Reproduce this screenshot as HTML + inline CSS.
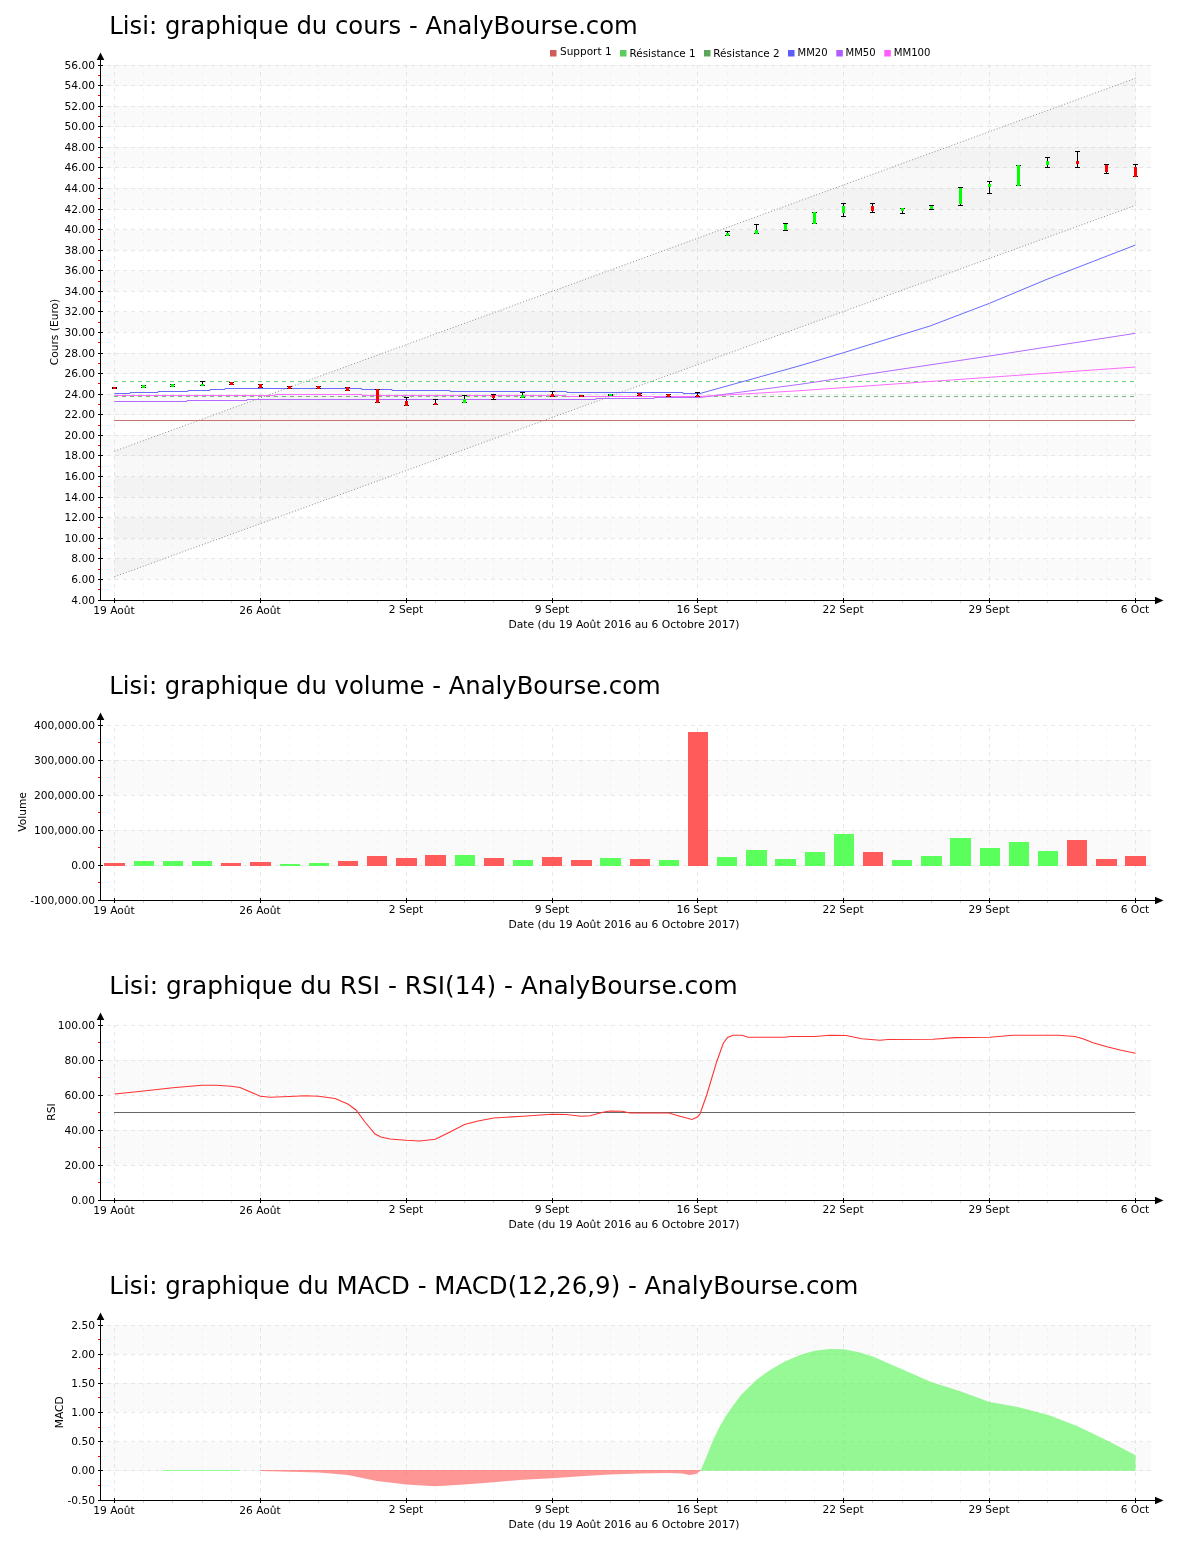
<!DOCTYPE html>
<html lang="fr"><head><meta charset="utf-8"><title>Lisi - AnalyBourse.com</title>
<style>
html,body{margin:0;padding:0;background:#fff}
svg{display:block;font-family:'DejaVu Sans','Liberation Sans',sans-serif;fill:#000}
.c{shape-rendering:crispEdges}
</style></head><body>
<svg width="1200" height="1550" viewBox="0 0 1200 1550">
<rect width="1200" height="1550" fill="#fff"/>
<text x="109.3" y="33.8" font-size="24" textLength="528.5" lengthAdjust="spacingAndGlyphs">Lisi: graphique du cours - AnalyBourse.com</text>
<rect x="101" y="65" width="1050" height="21" fill="#fafafa"/>
<rect x="101" y="106" width="1050" height="21" fill="#fafafa"/>
<rect x="101" y="147" width="1050" height="21" fill="#fafafa"/>
<rect x="101" y="188" width="1050" height="21" fill="#fafafa"/>
<rect x="101" y="230" width="1050" height="20" fill="#fafafa"/>
<rect x="101" y="271" width="1050" height="20" fill="#fafafa"/>
<rect x="101" y="312" width="1050" height="20" fill="#fafafa"/>
<rect x="101" y="353" width="1050" height="21" fill="#fafafa"/>
<rect x="101" y="394" width="1050" height="21" fill="#fafafa"/>
<rect x="101" y="435" width="1050" height="21" fill="#fafafa"/>
<rect x="101" y="477" width="1050" height="20" fill="#fafafa"/>
<rect x="101" y="518" width="1050" height="20" fill="#fafafa"/>
<rect x="101" y="559" width="1050" height="20" fill="#fafafa"/>
<line x1="107" x2="1151" y1="65.5" y2="65.5" stroke="#c8c8c8" stroke-opacity="0.42" stroke-dasharray="4 4" class="c"/>
<line x1="107" x2="1151" y1="85.5" y2="85.5" stroke="#c8c8c8" stroke-opacity="0.42" stroke-dasharray="4 4" class="c"/>
<line x1="107" x2="1151" y1="106.5" y2="106.5" stroke="#c8c8c8" stroke-opacity="0.42" stroke-dasharray="4 4" class="c"/>
<line x1="107" x2="1151" y1="126.5" y2="126.5" stroke="#c8c8c8" stroke-opacity="0.42" stroke-dasharray="4 4" class="c"/>
<line x1="107" x2="1151" y1="147.5" y2="147.5" stroke="#c8c8c8" stroke-opacity="0.42" stroke-dasharray="4 4" class="c"/>
<line x1="107" x2="1151" y1="167.5" y2="167.5" stroke="#c8c8c8" stroke-opacity="0.42" stroke-dasharray="4 4" class="c"/>
<line x1="107" x2="1151" y1="188.5" y2="188.5" stroke="#c8c8c8" stroke-opacity="0.42" stroke-dasharray="4 4" class="c"/>
<line x1="107" x2="1151" y1="209.5" y2="209.5" stroke="#c8c8c8" stroke-opacity="0.42" stroke-dasharray="4 4" class="c"/>
<line x1="107" x2="1151" y1="229.5" y2="229.5" stroke="#c8c8c8" stroke-opacity="0.42" stroke-dasharray="4 4" class="c"/>
<line x1="107" x2="1151" y1="250.5" y2="250.5" stroke="#c8c8c8" stroke-opacity="0.42" stroke-dasharray="4 4" class="c"/>
<line x1="107" x2="1151" y1="270.5" y2="270.5" stroke="#c8c8c8" stroke-opacity="0.42" stroke-dasharray="4 4" class="c"/>
<line x1="107" x2="1151" y1="291.5" y2="291.5" stroke="#c8c8c8" stroke-opacity="0.42" stroke-dasharray="4 4" class="c"/>
<line x1="107" x2="1151" y1="311.5" y2="311.5" stroke="#c8c8c8" stroke-opacity="0.42" stroke-dasharray="4 4" class="c"/>
<line x1="107" x2="1151" y1="332.5" y2="332.5" stroke="#c8c8c8" stroke-opacity="0.42" stroke-dasharray="4 4" class="c"/>
<line x1="107" x2="1151" y1="353.5" y2="353.5" stroke="#c8c8c8" stroke-opacity="0.42" stroke-dasharray="4 4" class="c"/>
<line x1="107" x2="1151" y1="373.5" y2="373.5" stroke="#c8c8c8" stroke-opacity="0.42" stroke-dasharray="4 4" class="c"/>
<line x1="107" x2="1151" y1="394.5" y2="394.5" stroke="#c8c8c8" stroke-opacity="0.42" stroke-dasharray="4 4" class="c"/>
<line x1="107" x2="1151" y1="414.5" y2="414.5" stroke="#c8c8c8" stroke-opacity="0.42" stroke-dasharray="4 4" class="c"/>
<line x1="107" x2="1151" y1="435.5" y2="435.5" stroke="#c8c8c8" stroke-opacity="0.42" stroke-dasharray="4 4" class="c"/>
<line x1="107" x2="1151" y1="455.5" y2="455.5" stroke="#c8c8c8" stroke-opacity="0.42" stroke-dasharray="4 4" class="c"/>
<line x1="107" x2="1151" y1="476.5" y2="476.5" stroke="#c8c8c8" stroke-opacity="0.42" stroke-dasharray="4 4" class="c"/>
<line x1="107" x2="1151" y1="497.5" y2="497.5" stroke="#c8c8c8" stroke-opacity="0.42" stroke-dasharray="4 4" class="c"/>
<line x1="107" x2="1151" y1="517.5" y2="517.5" stroke="#c8c8c8" stroke-opacity="0.42" stroke-dasharray="4 4" class="c"/>
<line x1="107" x2="1151" y1="538.5" y2="538.5" stroke="#c8c8c8" stroke-opacity="0.42" stroke-dasharray="4 4" class="c"/>
<line x1="107" x2="1151" y1="558.5" y2="558.5" stroke="#c8c8c8" stroke-opacity="0.42" stroke-dasharray="4 4" class="c"/>
<line x1="107" x2="1151" y1="579.5" y2="579.5" stroke="#c8c8c8" stroke-opacity="0.42" stroke-dasharray="4 4" class="c"/>
<line x1="114.5" x2="114.5" y1="65" y2="599" stroke="#c8c8c8" stroke-opacity="0.42" stroke-dasharray="4 4" stroke-dashoffset="1" class="c"/>
<line x1="143.5" x2="143.5" y1="65" y2="599" stroke="#c8c8c8" stroke-opacity="0.13" stroke-dasharray="4 4" stroke-dashoffset="1" class="c"/>
<line x1="172.5" x2="172.5" y1="65" y2="599" stroke="#c8c8c8" stroke-opacity="0.13" stroke-dasharray="4 4" stroke-dashoffset="1" class="c"/>
<line x1="202.5" x2="202.5" y1="65" y2="599" stroke="#c8c8c8" stroke-opacity="0.13" stroke-dasharray="4 4" stroke-dashoffset="1" class="c"/>
<line x1="231.5" x2="231.5" y1="65" y2="599" stroke="#c8c8c8" stroke-opacity="0.13" stroke-dasharray="4 4" stroke-dashoffset="1" class="c"/>
<line x1="260.5" x2="260.5" y1="65" y2="599" stroke="#c8c8c8" stroke-opacity="0.42" stroke-dasharray="4 4" stroke-dashoffset="1" class="c"/>
<line x1="289.5" x2="289.5" y1="65" y2="599" stroke="#c8c8c8" stroke-opacity="0.13" stroke-dasharray="4 4" stroke-dashoffset="1" class="c"/>
<line x1="318.5" x2="318.5" y1="65" y2="599" stroke="#c8c8c8" stroke-opacity="0.13" stroke-dasharray="4 4" stroke-dashoffset="1" class="c"/>
<line x1="347.5" x2="347.5" y1="65" y2="599" stroke="#c8c8c8" stroke-opacity="0.13" stroke-dasharray="4 4" stroke-dashoffset="1" class="c"/>
<line x1="377.5" x2="377.5" y1="65" y2="599" stroke="#c8c8c8" stroke-opacity="0.13" stroke-dasharray="4 4" stroke-dashoffset="1" class="c"/>
<line x1="406.5" x2="406.5" y1="65" y2="599" stroke="#c8c8c8" stroke-opacity="0.42" stroke-dasharray="4 4" stroke-dashoffset="1" class="c"/>
<line x1="435.5" x2="435.5" y1="65" y2="599" stroke="#c8c8c8" stroke-opacity="0.13" stroke-dasharray="4 4" stroke-dashoffset="1" class="c"/>
<line x1="464.5" x2="464.5" y1="65" y2="599" stroke="#c8c8c8" stroke-opacity="0.13" stroke-dasharray="4 4" stroke-dashoffset="1" class="c"/>
<line x1="493.5" x2="493.5" y1="65" y2="599" stroke="#c8c8c8" stroke-opacity="0.13" stroke-dasharray="4 4" stroke-dashoffset="1" class="c"/>
<line x1="522.5" x2="522.5" y1="65" y2="599" stroke="#c8c8c8" stroke-opacity="0.13" stroke-dasharray="4 4" stroke-dashoffset="1" class="c"/>
<line x1="552.5" x2="552.5" y1="65" y2="599" stroke="#c8c8c8" stroke-opacity="0.42" stroke-dasharray="4 4" stroke-dashoffset="1" class="c"/>
<line x1="581.5" x2="581.5" y1="65" y2="599" stroke="#c8c8c8" stroke-opacity="0.13" stroke-dasharray="4 4" stroke-dashoffset="1" class="c"/>
<line x1="610.5" x2="610.5" y1="65" y2="599" stroke="#c8c8c8" stroke-opacity="0.13" stroke-dasharray="4 4" stroke-dashoffset="1" class="c"/>
<line x1="639.5" x2="639.5" y1="65" y2="599" stroke="#c8c8c8" stroke-opacity="0.13" stroke-dasharray="4 4" stroke-dashoffset="1" class="c"/>
<line x1="668.5" x2="668.5" y1="65" y2="599" stroke="#c8c8c8" stroke-opacity="0.13" stroke-dasharray="4 4" stroke-dashoffset="1" class="c"/>
<line x1="697.5" x2="697.5" y1="65" y2="599" stroke="#c8c8c8" stroke-opacity="0.42" stroke-dasharray="4 4" stroke-dashoffset="1" class="c"/>
<line x1="727.5" x2="727.5" y1="65" y2="599" stroke="#c8c8c8" stroke-opacity="0.13" stroke-dasharray="4 4" stroke-dashoffset="1" class="c"/>
<line x1="756.5" x2="756.5" y1="65" y2="599" stroke="#c8c8c8" stroke-opacity="0.13" stroke-dasharray="4 4" stroke-dashoffset="1" class="c"/>
<line x1="785.5" x2="785.5" y1="65" y2="599" stroke="#c8c8c8" stroke-opacity="0.13" stroke-dasharray="4 4" stroke-dashoffset="1" class="c"/>
<line x1="814.5" x2="814.5" y1="65" y2="599" stroke="#c8c8c8" stroke-opacity="0.13" stroke-dasharray="4 4" stroke-dashoffset="1" class="c"/>
<line x1="843.5" x2="843.5" y1="65" y2="599" stroke="#c8c8c8" stroke-opacity="0.42" stroke-dasharray="4 4" stroke-dashoffset="1" class="c"/>
<line x1="872.5" x2="872.5" y1="65" y2="599" stroke="#c8c8c8" stroke-opacity="0.13" stroke-dasharray="4 4" stroke-dashoffset="1" class="c"/>
<line x1="902.5" x2="902.5" y1="65" y2="599" stroke="#c8c8c8" stroke-opacity="0.13" stroke-dasharray="4 4" stroke-dashoffset="1" class="c"/>
<line x1="931.5" x2="931.5" y1="65" y2="599" stroke="#c8c8c8" stroke-opacity="0.13" stroke-dasharray="4 4" stroke-dashoffset="1" class="c"/>
<line x1="960.5" x2="960.5" y1="65" y2="599" stroke="#c8c8c8" stroke-opacity="0.13" stroke-dasharray="4 4" stroke-dashoffset="1" class="c"/>
<line x1="989.5" x2="989.5" y1="65" y2="599" stroke="#c8c8c8" stroke-opacity="0.42" stroke-dasharray="4 4" stroke-dashoffset="1" class="c"/>
<line x1="1018.5" x2="1018.5" y1="65" y2="599" stroke="#c8c8c8" stroke-opacity="0.13" stroke-dasharray="4 4" stroke-dashoffset="1" class="c"/>
<line x1="1047.5" x2="1047.5" y1="65" y2="599" stroke="#c8c8c8" stroke-opacity="0.13" stroke-dasharray="4 4" stroke-dashoffset="1" class="c"/>
<line x1="1077.5" x2="1077.5" y1="65" y2="599" stroke="#c8c8c8" stroke-opacity="0.13" stroke-dasharray="4 4" stroke-dashoffset="1" class="c"/>
<line x1="1106.5" x2="1106.5" y1="65" y2="599" stroke="#c8c8c8" stroke-opacity="0.13" stroke-dasharray="4 4" stroke-dashoffset="1" class="c"/>
<line x1="1135.5" x2="1135.5" y1="65" y2="599" stroke="#c8c8c8" stroke-opacity="0.42" stroke-dasharray="4 4" stroke-dashoffset="1" class="c"/>
<polygon points="114.5,451.2 1135.5,78.3 1135.5,205.3 114.5,576.7" fill="#000" fill-opacity="0.028"/>
<line x1="114.5" y1="451.2" x2="1135.5" y2="78.3" stroke="#8c8c8c" stroke-dasharray="1 2"/>
<line x1="114.5" y1="576.7" x2="1135.5" y2="205.3" stroke="#8c8c8c" stroke-dasharray="1 2"/>
<line x1="114" x2="1135" y1="420.5" y2="420.5" stroke="#c97272" class="c"/>
<line x1="114" x2="1135" y1="381.5" y2="381.5" stroke="#6fd06f" stroke-dasharray="4 4" class="c"/>
<line x1="114" x2="1135" y1="396.5" y2="396.5" stroke="#76b876" stroke-dasharray="4 4" class="c"/>
<polyline points="114.5,393.5 130.0,393.5 130.0,392.5 158.0,392.5 158.0,391.5 188.0,391.5 188.0,390.5 210.0,390.5 210.0,389.5 225.0,389.5 225.0,388.5 361.7,388.5 361.7,389.5 392.0,389.5 392.0,390.5 450.0,390.5 450.0,391.5 566.7,391.5 566.7,392.5 683.0,392.5 683.0,393.5 700.0,393.5 800.0,365.7 843.5,352.7 930.0,326.0 989.5,303.3 1047.0,279.3 1135.5,245.0" fill="none" stroke="#6a6aff" stroke-width="1"/>
<polyline points="114.5,401.5 187.0,401.5 187.0,400.5 247.0,400.5 247.0,399.5 596.0,399.5 596.0,398.5 654.0,398.5 654.0,397.5 700.0,397.5 800.0,384.3 989.5,356.0 1135.5,333.3" fill="none" stroke="#b56aff" stroke-width="1"/>
<polyline points="114.5,395.5 275.0,395.5 275.0,394.5 362.0,394.5 362.0,395.5 566.0,395.5 566.0,396.5 700.0,396.5 800.0,390.7 989.5,377.3 1135.5,367.0" fill="none" stroke="#ff6aff" stroke-width="1"/>
<rect x="114.0" y="387" width="1" height="2" fill="#000"/>
<rect x="112.0" y="387" width="5" height="1" fill="#000"/><rect x="112.0" y="388" width="5" height="1" fill="#000"/>
<rect x="113.0" y="387" width="3" height="2" fill="#ff0000"/>
<rect x="143.0" y="385" width="1" height="3" fill="#000"/>
<rect x="141.0" y="385" width="5" height="1" fill="#000"/><rect x="141.0" y="387" width="5" height="1" fill="#000"/>
<rect x="142.0" y="385" width="3" height="3" fill="#00ff00"/>
<rect x="172.0" y="384" width="1" height="3" fill="#000"/>
<rect x="170.0" y="384" width="5" height="1" fill="#000"/><rect x="170.0" y="386" width="5" height="1" fill="#000"/>
<rect x="171.0" y="384" width="3" height="3" fill="#00ff00"/>
<rect x="202.0" y="381" width="1" height="5" fill="#000"/>
<rect x="200.0" y="381" width="5" height="1" fill="#000"/><rect x="200.0" y="385" width="5" height="1" fill="#000"/>
<rect x="201.0" y="384" width="3" height="2" fill="#00ff00"/>
<rect x="231.0" y="382" width="1" height="3" fill="#000"/>
<rect x="229.0" y="382" width="5" height="1" fill="#000"/><rect x="229.0" y="384" width="5" height="1" fill="#000"/>
<rect x="230.0" y="382" width="3" height="3" fill="#ff0000"/>
<rect x="260.0" y="384" width="1" height="4" fill="#000"/>
<rect x="258.0" y="384" width="5" height="1" fill="#000"/><rect x="258.0" y="387" width="5" height="1" fill="#000"/>
<rect x="259.0" y="384" width="3" height="4" fill="#ff0000"/>
<rect x="289.0" y="386" width="1" height="3" fill="#000"/>
<rect x="287.0" y="386" width="5" height="1" fill="#000"/><rect x="287.0" y="388" width="5" height="1" fill="#000"/>
<rect x="288.0" y="386" width="3" height="3" fill="#ff0000"/>
<rect x="318.0" y="386" width="1" height="3" fill="#000"/>
<rect x="316.0" y="386" width="5" height="1" fill="#000"/><rect x="316.0" y="388" width="5" height="1" fill="#000"/>
<rect x="317.0" y="386" width="3" height="3" fill="#ff0000"/>
<rect x="347.0" y="387" width="1" height="4" fill="#000"/>
<rect x="345.0" y="387" width="5" height="1" fill="#000"/><rect x="345.0" y="390" width="5" height="1" fill="#000"/>
<rect x="346.0" y="387" width="3" height="4" fill="#ff0000"/>
<rect x="377.0" y="389" width="1" height="14" fill="#000"/>
<rect x="375.0" y="389" width="5" height="1" fill="#000"/><rect x="375.0" y="402" width="5" height="1" fill="#000"/>
<rect x="376.0" y="389" width="3" height="14" fill="#ff0000"/>
<rect x="406.0" y="397" width="1" height="9" fill="#000"/>
<rect x="404.0" y="397" width="5" height="1" fill="#000"/><rect x="404.0" y="405" width="5" height="1" fill="#000"/>
<rect x="405.0" y="401" width="3" height="5" fill="#ff0000"/>
<rect x="435.0" y="399" width="1" height="6" fill="#000"/>
<rect x="433.0" y="399" width="5" height="1" fill="#000"/><rect x="433.0" y="404" width="5" height="1" fill="#000"/>
<rect x="434.0" y="403" width="3" height="2" fill="#ff0000"/>
<rect x="464.0" y="395" width="1" height="8" fill="#000"/>
<rect x="462.0" y="395" width="5" height="1" fill="#000"/><rect x="462.0" y="402" width="5" height="1" fill="#000"/>
<rect x="463.0" y="399" width="3" height="4" fill="#00ff00"/>
<rect x="493.0" y="394" width="1" height="6" fill="#000"/>
<rect x="491.0" y="394" width="5" height="1" fill="#000"/><rect x="491.0" y="399" width="5" height="1" fill="#000"/>
<rect x="492.0" y="395" width="3" height="3" fill="#ff0000"/>
<rect x="522.0" y="392" width="1" height="6" fill="#000"/>
<rect x="520.0" y="392" width="5" height="1" fill="#000"/><rect x="520.0" y="397" width="5" height="1" fill="#000"/>
<rect x="521.0" y="395" width="3" height="3" fill="#00ff00"/>
<rect x="552.0" y="391" width="1" height="6" fill="#000"/>
<rect x="550.0" y="391" width="5" height="1" fill="#000"/><rect x="550.0" y="396" width="5" height="1" fill="#000"/>
<rect x="551.0" y="394" width="3" height="3" fill="#ff0000"/>
<rect x="581.0" y="395" width="1" height="2" fill="#000"/>
<rect x="579.0" y="395" width="5" height="1" fill="#000"/><rect x="579.0" y="396" width="5" height="1" fill="#000"/>
<rect x="580.0" y="395" width="3" height="2" fill="#ff0000"/>
<rect x="610.0" y="394" width="1" height="2" fill="#000"/>
<rect x="608.0" y="394" width="5" height="1" fill="#000"/><rect x="608.0" y="395" width="5" height="1" fill="#000"/>
<rect x="609.0" y="394" width="3" height="2" fill="#00ff00"/>
<rect x="639.0" y="393" width="1" height="3" fill="#000"/>
<rect x="637.0" y="393" width="5" height="1" fill="#000"/><rect x="637.0" y="395" width="5" height="1" fill="#000"/>
<rect x="638.0" y="393" width="3" height="3" fill="#ff0000"/>
<rect x="668.0" y="394" width="1" height="3" fill="#000"/>
<rect x="666.0" y="394" width="5" height="1" fill="#000"/><rect x="666.0" y="396" width="5" height="1" fill="#000"/>
<rect x="667.0" y="394" width="3" height="3" fill="#ff0000"/>
<rect x="697.0" y="392" width="1" height="5" fill="#000"/>
<rect x="695.0" y="392" width="5" height="1" fill="#000"/><rect x="695.0" y="396" width="5" height="1" fill="#000"/>
<rect x="696.0" y="395" width="3" height="2" fill="#ff0000"/>
<rect x="727.0" y="231" width="1" height="5" fill="#000"/>
<rect x="725.0" y="231" width="5" height="1" fill="#000"/><rect x="725.0" y="235" width="5" height="1" fill="#000"/>
<rect x="726.0" y="233" width="3" height="3" fill="#00ff00"/>
<rect x="756.0" y="224" width="1" height="10" fill="#000"/>
<rect x="754.0" y="224" width="5" height="1" fill="#000"/><rect x="754.0" y="233" width="5" height="1" fill="#000"/>
<rect x="755.0" y="230" width="3" height="4" fill="#00ff00"/>
<rect x="785.0" y="223" width="1" height="8" fill="#000"/>
<rect x="783.0" y="223" width="5" height="1" fill="#000"/><rect x="783.0" y="230" width="5" height="1" fill="#000"/>
<rect x="784.0" y="224" width="3" height="6" fill="#00ff00"/>
<rect x="814.0" y="212" width="1" height="12" fill="#000"/>
<rect x="812.0" y="212" width="5" height="1" fill="#000"/><rect x="812.0" y="223" width="5" height="1" fill="#000"/>
<rect x="813.0" y="212" width="3" height="12" fill="#00ff00"/>
<rect x="843.0" y="203" width="1" height="14" fill="#000"/>
<rect x="841.0" y="203" width="5" height="1" fill="#000"/><rect x="841.0" y="216" width="5" height="1" fill="#000"/>
<rect x="842.0" y="206" width="3" height="7" fill="#00ff00"/>
<rect x="872.0" y="203" width="1" height="10" fill="#000"/>
<rect x="870.0" y="203" width="5" height="1" fill="#000"/><rect x="870.0" y="212" width="5" height="1" fill="#000"/>
<rect x="871.0" y="206" width="3" height="5" fill="#ff0000"/>
<rect x="902.0" y="208" width="1" height="6" fill="#000"/>
<rect x="900.0" y="208" width="5" height="1" fill="#000"/><rect x="900.0" y="213" width="5" height="1" fill="#000"/>
<rect x="901.0" y="208" width="3" height="3" fill="#00ff00"/>
<rect x="931.0" y="205" width="1" height="5" fill="#000"/>
<rect x="929.0" y="205" width="5" height="1" fill="#000"/><rect x="929.0" y="209" width="5" height="1" fill="#000"/>
<rect x="930.0" y="206" width="3" height="3" fill="#00ff00"/>
<rect x="960.0" y="187" width="1" height="19" fill="#000"/>
<rect x="958.0" y="187" width="5" height="1" fill="#000"/><rect x="958.0" y="205" width="5" height="1" fill="#000"/>
<rect x="959.0" y="188" width="3" height="16" fill="#00ff00"/>
<rect x="989.0" y="181" width="1" height="13" fill="#000"/>
<rect x="987.0" y="181" width="5" height="1" fill="#000"/><rect x="987.0" y="193" width="5" height="1" fill="#000"/>
<rect x="988.0" y="184" width="3" height="3" fill="#00ff00"/>
<rect x="1018.0" y="165" width="1" height="21" fill="#000"/>
<rect x="1016.0" y="165" width="5" height="1" fill="#000"/><rect x="1016.0" y="185" width="5" height="1" fill="#000"/>
<rect x="1017.0" y="165" width="3" height="21" fill="#00ff00"/>
<rect x="1047.0" y="157" width="1" height="11" fill="#000"/>
<rect x="1045.0" y="157" width="5" height="1" fill="#000"/><rect x="1045.0" y="167" width="5" height="1" fill="#000"/>
<rect x="1046.0" y="161" width="3" height="4" fill="#00ff00"/>
<rect x="1077.0" y="151" width="1" height="17" fill="#000"/>
<rect x="1075.0" y="151" width="5" height="1" fill="#000"/><rect x="1075.0" y="167" width="5" height="1" fill="#000"/>
<rect x="1076.0" y="161" width="3" height="3" fill="#ff0000"/>
<rect x="1106.0" y="164" width="1" height="10" fill="#000"/>
<rect x="1104.0" y="164" width="5" height="1" fill="#000"/><rect x="1104.0" y="173" width="5" height="1" fill="#000"/>
<rect x="1105.0" y="165" width="3" height="7" fill="#ff0000"/>
<rect x="1135.0" y="164" width="1" height="13" fill="#000"/>
<rect x="1133.0" y="164" width="5" height="1" fill="#000"/><rect x="1133.0" y="176" width="5" height="1" fill="#000"/>
<rect x="1134.0" y="167" width="3" height="10" fill="#ff0000"/>
<line x1="100.5" x2="100.5" y1="58" y2="601" stroke="#000" class="c"/>
<path d="M100.5 52.5 L104.3 60 L96.7 60 Z" fill="#000"/>
<line x1="98" x2="1156" y1="600.5" y2="600.5" stroke="#000" class="c"/>
<path d="M1163.5 600.5 L1155 596.7 L1155 604.3 Z" fill="#000"/>
<line x1="98" x2="103" y1="65.5" y2="65.5" stroke="#000" class="c"/>
<text x="95" y="69.2" text-anchor="end" font-size="10.67">56.00</text>
<line x1="98" x2="100" y1="75.5" y2="75.5" stroke="#f00" class="c"/>
<line x1="98" x2="103" y1="85.5" y2="85.5" stroke="#000" class="c"/>
<text x="95" y="89.2" text-anchor="end" font-size="10.67">54.00</text>
<line x1="98" x2="100" y1="95.5" y2="95.5" stroke="#f00" class="c"/>
<line x1="98" x2="103" y1="106.5" y2="106.5" stroke="#000" class="c"/>
<text x="95" y="110.2" text-anchor="end" font-size="10.67">52.00</text>
<line x1="98" x2="100" y1="116.5" y2="116.5" stroke="#f00" class="c"/>
<line x1="98" x2="103" y1="126.5" y2="126.5" stroke="#000" class="c"/>
<text x="95" y="130.2" text-anchor="end" font-size="10.67">50.00</text>
<line x1="98" x2="100" y1="137.5" y2="137.5" stroke="#f00" class="c"/>
<line x1="98" x2="103" y1="147.5" y2="147.5" stroke="#000" class="c"/>
<text x="95" y="151.2" text-anchor="end" font-size="10.67">48.00</text>
<line x1="98" x2="100" y1="157.5" y2="157.5" stroke="#f00" class="c"/>
<line x1="98" x2="103" y1="167.5" y2="167.5" stroke="#000" class="c"/>
<text x="95" y="171.2" text-anchor="end" font-size="10.67">46.00</text>
<line x1="98" x2="100" y1="178.5" y2="178.5" stroke="#f00" class="c"/>
<line x1="98" x2="103" y1="188.5" y2="188.5" stroke="#000" class="c"/>
<text x="95" y="192.2" text-anchor="end" font-size="10.67">44.00</text>
<line x1="98" x2="100" y1="198.5" y2="198.5" stroke="#f00" class="c"/>
<line x1="98" x2="103" y1="209.5" y2="209.5" stroke="#000" class="c"/>
<text x="95" y="213.2" text-anchor="end" font-size="10.67">42.00</text>
<line x1="98" x2="100" y1="219.5" y2="219.5" stroke="#f00" class="c"/>
<line x1="98" x2="103" y1="229.5" y2="229.5" stroke="#000" class="c"/>
<text x="95" y="233.2" text-anchor="end" font-size="10.67">40.00</text>
<line x1="98" x2="100" y1="239.5" y2="239.5" stroke="#f00" class="c"/>
<line x1="98" x2="103" y1="250.5" y2="250.5" stroke="#000" class="c"/>
<text x="95" y="254.2" text-anchor="end" font-size="10.67">38.00</text>
<line x1="98" x2="100" y1="260.5" y2="260.5" stroke="#f00" class="c"/>
<line x1="98" x2="103" y1="270.5" y2="270.5" stroke="#000" class="c"/>
<text x="95" y="274.2" text-anchor="end" font-size="10.67">36.00</text>
<line x1="98" x2="100" y1="281.5" y2="281.5" stroke="#f00" class="c"/>
<line x1="98" x2="103" y1="291.5" y2="291.5" stroke="#000" class="c"/>
<text x="95" y="295.2" text-anchor="end" font-size="10.67">34.00</text>
<line x1="98" x2="100" y1="301.5" y2="301.5" stroke="#f00" class="c"/>
<line x1="98" x2="103" y1="311.5" y2="311.5" stroke="#000" class="c"/>
<text x="95" y="315.2" text-anchor="end" font-size="10.67">32.00</text>
<line x1="98" x2="100" y1="322.5" y2="322.5" stroke="#f00" class="c"/>
<line x1="98" x2="103" y1="332.5" y2="332.5" stroke="#000" class="c"/>
<text x="95" y="336.2" text-anchor="end" font-size="10.67">30.00</text>
<line x1="98" x2="100" y1="342.5" y2="342.5" stroke="#f00" class="c"/>
<line x1="98" x2="103" y1="353.5" y2="353.5" stroke="#000" class="c"/>
<text x="95" y="357.2" text-anchor="end" font-size="10.67">28.00</text>
<line x1="98" x2="100" y1="363.5" y2="363.5" stroke="#f00" class="c"/>
<line x1="98" x2="103" y1="373.5" y2="373.5" stroke="#000" class="c"/>
<text x="95" y="377.2" text-anchor="end" font-size="10.67">26.00</text>
<line x1="98" x2="100" y1="383.5" y2="383.5" stroke="#f00" class="c"/>
<line x1="98" x2="103" y1="394.5" y2="394.5" stroke="#000" class="c"/>
<text x="95" y="398.2" text-anchor="end" font-size="10.67">24.00</text>
<line x1="98" x2="100" y1="404.5" y2="404.5" stroke="#f00" class="c"/>
<line x1="98" x2="103" y1="414.5" y2="414.5" stroke="#000" class="c"/>
<text x="95" y="418.2" text-anchor="end" font-size="10.67">22.00</text>
<line x1="98" x2="100" y1="425.5" y2="425.5" stroke="#f00" class="c"/>
<line x1="98" x2="103" y1="435.5" y2="435.5" stroke="#000" class="c"/>
<text x="95" y="439.2" text-anchor="end" font-size="10.67">20.00</text>
<line x1="98" x2="100" y1="445.5" y2="445.5" stroke="#f00" class="c"/>
<line x1="98" x2="103" y1="455.5" y2="455.5" stroke="#000" class="c"/>
<text x="95" y="459.2" text-anchor="end" font-size="10.67">18.00</text>
<line x1="98" x2="100" y1="466.5" y2="466.5" stroke="#f00" class="c"/>
<line x1="98" x2="103" y1="476.5" y2="476.5" stroke="#000" class="c"/>
<text x="95" y="480.2" text-anchor="end" font-size="10.67">16.00</text>
<line x1="98" x2="100" y1="486.5" y2="486.5" stroke="#f00" class="c"/>
<line x1="98" x2="103" y1="497.5" y2="497.5" stroke="#000" class="c"/>
<text x="95" y="501.2" text-anchor="end" font-size="10.67">14.00</text>
<line x1="98" x2="100" y1="507.5" y2="507.5" stroke="#f00" class="c"/>
<line x1="98" x2="103" y1="517.5" y2="517.5" stroke="#000" class="c"/>
<text x="95" y="521.2" text-anchor="end" font-size="10.67">12.00</text>
<line x1="98" x2="100" y1="527.5" y2="527.5" stroke="#f00" class="c"/>
<line x1="98" x2="103" y1="538.5" y2="538.5" stroke="#000" class="c"/>
<text x="95" y="542.2" text-anchor="end" font-size="10.67">10.00</text>
<line x1="98" x2="100" y1="548.5" y2="548.5" stroke="#f00" class="c"/>
<line x1="98" x2="103" y1="558.5" y2="558.5" stroke="#000" class="c"/>
<text x="95" y="562.2" text-anchor="end" font-size="10.67">8.00</text>
<line x1="98" x2="100" y1="569.5" y2="569.5" stroke="#f00" class="c"/>
<line x1="98" x2="103" y1="579.5" y2="579.5" stroke="#000" class="c"/>
<text x="95" y="583.2" text-anchor="end" font-size="10.67">6.00</text>
<line x1="98" x2="100" y1="589.5" y2="589.5" stroke="#f00" class="c"/>
<line x1="98" x2="103" y1="600.5" y2="600.5" stroke="#000" class="c"/>
<text x="95" y="604.2" text-anchor="end" font-size="10.67">4.00</text>
<line x1="114.5" x2="114.5" y1="598" y2="603" stroke="#000" class="c"/>
<text x="114.0" y="613.7" text-anchor="middle" font-size="10.67">19 Août</text>
<line x1="143.5" x2="143.5" y1="601" y2="603" stroke="#d4d4d4" class="c"/>
<line x1="172.5" x2="172.5" y1="601" y2="603" stroke="#d4d4d4" class="c"/>
<line x1="202.5" x2="202.5" y1="601" y2="603" stroke="#d4d4d4" class="c"/>
<line x1="231.5" x2="231.5" y1="601" y2="603" stroke="#d4d4d4" class="c"/>
<line x1="260.5" x2="260.5" y1="598" y2="603" stroke="#000" class="c"/>
<text x="260.0" y="613.7" text-anchor="middle" font-size="10.67">26 Août</text>
<line x1="289.5" x2="289.5" y1="601" y2="603" stroke="#d4d4d4" class="c"/>
<line x1="318.5" x2="318.5" y1="601" y2="603" stroke="#d4d4d4" class="c"/>
<line x1="347.5" x2="347.5" y1="601" y2="603" stroke="#d4d4d4" class="c"/>
<line x1="377.5" x2="377.5" y1="601" y2="603" stroke="#d4d4d4" class="c"/>
<line x1="406.5" x2="406.5" y1="598" y2="603" stroke="#000" class="c"/>
<text x="406.0" y="612.8" text-anchor="middle" font-size="10.67">2 Sept</text>
<line x1="435.5" x2="435.5" y1="601" y2="603" stroke="#d4d4d4" class="c"/>
<line x1="464.5" x2="464.5" y1="601" y2="603" stroke="#d4d4d4" class="c"/>
<line x1="493.5" x2="493.5" y1="601" y2="603" stroke="#d4d4d4" class="c"/>
<line x1="522.5" x2="522.5" y1="601" y2="603" stroke="#d4d4d4" class="c"/>
<line x1="552.5" x2="552.5" y1="598" y2="603" stroke="#000" class="c"/>
<text x="552.0" y="612.8" text-anchor="middle" font-size="10.67">9 Sept</text>
<line x1="581.5" x2="581.5" y1="601" y2="603" stroke="#d4d4d4" class="c"/>
<line x1="610.5" x2="610.5" y1="601" y2="603" stroke="#d4d4d4" class="c"/>
<line x1="639.5" x2="639.5" y1="601" y2="603" stroke="#d4d4d4" class="c"/>
<line x1="668.5" x2="668.5" y1="601" y2="603" stroke="#d4d4d4" class="c"/>
<line x1="697.5" x2="697.5" y1="598" y2="603" stroke="#000" class="c"/>
<text x="697.0" y="612.8" text-anchor="middle" font-size="10.67">16 Sept</text>
<line x1="727.5" x2="727.5" y1="601" y2="603" stroke="#d4d4d4" class="c"/>
<line x1="756.5" x2="756.5" y1="601" y2="603" stroke="#d4d4d4" class="c"/>
<line x1="785.5" x2="785.5" y1="601" y2="603" stroke="#d4d4d4" class="c"/>
<line x1="814.5" x2="814.5" y1="601" y2="603" stroke="#d4d4d4" class="c"/>
<line x1="843.5" x2="843.5" y1="598" y2="603" stroke="#000" class="c"/>
<text x="843.0" y="612.8" text-anchor="middle" font-size="10.67">22 Sept</text>
<line x1="872.5" x2="872.5" y1="601" y2="603" stroke="#d4d4d4" class="c"/>
<line x1="902.5" x2="902.5" y1="601" y2="603" stroke="#d4d4d4" class="c"/>
<line x1="931.5" x2="931.5" y1="601" y2="603" stroke="#d4d4d4" class="c"/>
<line x1="960.5" x2="960.5" y1="601" y2="603" stroke="#d4d4d4" class="c"/>
<line x1="989.5" x2="989.5" y1="598" y2="603" stroke="#000" class="c"/>
<text x="989.0" y="612.8" text-anchor="middle" font-size="10.67">29 Sept</text>
<line x1="1018.5" x2="1018.5" y1="601" y2="603" stroke="#d4d4d4" class="c"/>
<line x1="1047.5" x2="1047.5" y1="601" y2="603" stroke="#d4d4d4" class="c"/>
<line x1="1077.5" x2="1077.5" y1="601" y2="603" stroke="#d4d4d4" class="c"/>
<line x1="1106.5" x2="1106.5" y1="601" y2="603" stroke="#d4d4d4" class="c"/>
<line x1="1135.5" x2="1135.5" y1="598" y2="603" stroke="#000" class="c"/>
<text x="1135.0" y="612.8" text-anchor="middle" font-size="10.67">6 Oct</text>
<text x="624" y="627.5" text-anchor="middle" font-size="10.67" textLength="231" lengthAdjust="spacingAndGlyphs">Date (du 19 Août 2016 au 6 Octobre 2017)</text>
<text transform="translate(58 332) rotate(-90)" text-anchor="middle" font-size="10.67">Cours (Euro)</text>
<rect x="550" y="50" width="6.5" height="6.5" fill="#cd5c5c"/>
<text x="560" y="54.7" font-size="10.67" textLength="51.6" lengthAdjust="spacingAndGlyphs">Support 1</text>
<rect x="620" y="50" width="6.5" height="6.5" fill="#5ccd5c"/>
<text x="629.5" y="57" font-size="10.67" textLength="66" lengthAdjust="spacingAndGlyphs">Résistance 1</text>
<rect x="704" y="50" width="6.5" height="6.5" fill="#5ca55c"/>
<text x="713.3" y="57" font-size="10.67" textLength="66.5" lengthAdjust="spacingAndGlyphs">Résistance 2</text>
<rect x="788" y="50" width="6.5" height="6.5" fill="#5c5cff"/>
<text x="797.5" y="55.8" font-size="10.67" textLength="30" lengthAdjust="spacingAndGlyphs">MM20</text>
<rect x="836.3" y="50" width="6.5" height="6.5" fill="#b05cff"/>
<text x="845.5" y="55.8" font-size="10.67" textLength="30" lengthAdjust="spacingAndGlyphs">MM50</text>
<rect x="884.3" y="50" width="6.5" height="6.5" fill="#ff5cff"/>
<text x="893.7" y="55.8" font-size="10.67" textLength="36.8" lengthAdjust="spacingAndGlyphs">MM100</text>
<text x="109.3" y="693.8" font-size="24" textLength="551.4" lengthAdjust="spacingAndGlyphs">Lisi: graphique du volume - AnalyBourse.com</text>
<rect x="101" y="760" width="1050" height="35" fill="#fafafa"/>
<rect x="101" y="830" width="1050" height="35" fill="#fafafa"/>
<line x1="107" x2="1151" y1="725.5" y2="725.5" stroke="#c8c8c8" stroke-opacity="0.42" stroke-dasharray="4 4" class="c"/>
<line x1="107" x2="1151" y1="760.5" y2="760.5" stroke="#c8c8c8" stroke-opacity="0.42" stroke-dasharray="4 4" class="c"/>
<line x1="107" x2="1151" y1="795.5" y2="795.5" stroke="#c8c8c8" stroke-opacity="0.42" stroke-dasharray="4 4" class="c"/>
<line x1="107" x2="1151" y1="830.5" y2="830.5" stroke="#c8c8c8" stroke-opacity="0.42" stroke-dasharray="4 4" class="c"/>
<line x1="107" x2="1151" y1="865.5" y2="865.5" stroke="#c8c8c8" stroke-opacity="0.42" stroke-dasharray="4 4" class="c"/>
<line x1="114.5" x2="114.5" y1="725" y2="899" stroke="#c8c8c8" stroke-opacity="0.42" stroke-dasharray="4 4" stroke-dashoffset="5" class="c"/>
<line x1="143.5" x2="143.5" y1="725" y2="899" stroke="#c8c8c8" stroke-opacity="0.13" stroke-dasharray="4 4" stroke-dashoffset="5" class="c"/>
<line x1="172.5" x2="172.5" y1="725" y2="899" stroke="#c8c8c8" stroke-opacity="0.13" stroke-dasharray="4 4" stroke-dashoffset="5" class="c"/>
<line x1="202.5" x2="202.5" y1="725" y2="899" stroke="#c8c8c8" stroke-opacity="0.13" stroke-dasharray="4 4" stroke-dashoffset="5" class="c"/>
<line x1="231.5" x2="231.5" y1="725" y2="899" stroke="#c8c8c8" stroke-opacity="0.13" stroke-dasharray="4 4" stroke-dashoffset="5" class="c"/>
<line x1="260.5" x2="260.5" y1="725" y2="899" stroke="#c8c8c8" stroke-opacity="0.42" stroke-dasharray="4 4" stroke-dashoffset="5" class="c"/>
<line x1="289.5" x2="289.5" y1="725" y2="899" stroke="#c8c8c8" stroke-opacity="0.13" stroke-dasharray="4 4" stroke-dashoffset="5" class="c"/>
<line x1="318.5" x2="318.5" y1="725" y2="899" stroke="#c8c8c8" stroke-opacity="0.13" stroke-dasharray="4 4" stroke-dashoffset="5" class="c"/>
<line x1="347.5" x2="347.5" y1="725" y2="899" stroke="#c8c8c8" stroke-opacity="0.13" stroke-dasharray="4 4" stroke-dashoffset="5" class="c"/>
<line x1="377.5" x2="377.5" y1="725" y2="899" stroke="#c8c8c8" stroke-opacity="0.13" stroke-dasharray="4 4" stroke-dashoffset="5" class="c"/>
<line x1="406.5" x2="406.5" y1="725" y2="899" stroke="#c8c8c8" stroke-opacity="0.42" stroke-dasharray="4 4" stroke-dashoffset="5" class="c"/>
<line x1="435.5" x2="435.5" y1="725" y2="899" stroke="#c8c8c8" stroke-opacity="0.13" stroke-dasharray="4 4" stroke-dashoffset="5" class="c"/>
<line x1="464.5" x2="464.5" y1="725" y2="899" stroke="#c8c8c8" stroke-opacity="0.13" stroke-dasharray="4 4" stroke-dashoffset="5" class="c"/>
<line x1="493.5" x2="493.5" y1="725" y2="899" stroke="#c8c8c8" stroke-opacity="0.13" stroke-dasharray="4 4" stroke-dashoffset="5" class="c"/>
<line x1="522.5" x2="522.5" y1="725" y2="899" stroke="#c8c8c8" stroke-opacity="0.13" stroke-dasharray="4 4" stroke-dashoffset="5" class="c"/>
<line x1="552.5" x2="552.5" y1="725" y2="899" stroke="#c8c8c8" stroke-opacity="0.42" stroke-dasharray="4 4" stroke-dashoffset="5" class="c"/>
<line x1="581.5" x2="581.5" y1="725" y2="899" stroke="#c8c8c8" stroke-opacity="0.13" stroke-dasharray="4 4" stroke-dashoffset="5" class="c"/>
<line x1="610.5" x2="610.5" y1="725" y2="899" stroke="#c8c8c8" stroke-opacity="0.13" stroke-dasharray="4 4" stroke-dashoffset="5" class="c"/>
<line x1="639.5" x2="639.5" y1="725" y2="899" stroke="#c8c8c8" stroke-opacity="0.13" stroke-dasharray="4 4" stroke-dashoffset="5" class="c"/>
<line x1="668.5" x2="668.5" y1="725" y2="899" stroke="#c8c8c8" stroke-opacity="0.13" stroke-dasharray="4 4" stroke-dashoffset="5" class="c"/>
<line x1="697.5" x2="697.5" y1="725" y2="899" stroke="#c8c8c8" stroke-opacity="0.42" stroke-dasharray="4 4" stroke-dashoffset="5" class="c"/>
<line x1="727.5" x2="727.5" y1="725" y2="899" stroke="#c8c8c8" stroke-opacity="0.13" stroke-dasharray="4 4" stroke-dashoffset="5" class="c"/>
<line x1="756.5" x2="756.5" y1="725" y2="899" stroke="#c8c8c8" stroke-opacity="0.13" stroke-dasharray="4 4" stroke-dashoffset="5" class="c"/>
<line x1="785.5" x2="785.5" y1="725" y2="899" stroke="#c8c8c8" stroke-opacity="0.13" stroke-dasharray="4 4" stroke-dashoffset="5" class="c"/>
<line x1="814.5" x2="814.5" y1="725" y2="899" stroke="#c8c8c8" stroke-opacity="0.13" stroke-dasharray="4 4" stroke-dashoffset="5" class="c"/>
<line x1="843.5" x2="843.5" y1="725" y2="899" stroke="#c8c8c8" stroke-opacity="0.42" stroke-dasharray="4 4" stroke-dashoffset="5" class="c"/>
<line x1="872.5" x2="872.5" y1="725" y2="899" stroke="#c8c8c8" stroke-opacity="0.13" stroke-dasharray="4 4" stroke-dashoffset="5" class="c"/>
<line x1="902.5" x2="902.5" y1="725" y2="899" stroke="#c8c8c8" stroke-opacity="0.13" stroke-dasharray="4 4" stroke-dashoffset="5" class="c"/>
<line x1="931.5" x2="931.5" y1="725" y2="899" stroke="#c8c8c8" stroke-opacity="0.13" stroke-dasharray="4 4" stroke-dashoffset="5" class="c"/>
<line x1="960.5" x2="960.5" y1="725" y2="899" stroke="#c8c8c8" stroke-opacity="0.13" stroke-dasharray="4 4" stroke-dashoffset="5" class="c"/>
<line x1="989.5" x2="989.5" y1="725" y2="899" stroke="#c8c8c8" stroke-opacity="0.42" stroke-dasharray="4 4" stroke-dashoffset="5" class="c"/>
<line x1="1018.5" x2="1018.5" y1="725" y2="899" stroke="#c8c8c8" stroke-opacity="0.13" stroke-dasharray="4 4" stroke-dashoffset="5" class="c"/>
<line x1="1047.5" x2="1047.5" y1="725" y2="899" stroke="#c8c8c8" stroke-opacity="0.13" stroke-dasharray="4 4" stroke-dashoffset="5" class="c"/>
<line x1="1077.5" x2="1077.5" y1="725" y2="899" stroke="#c8c8c8" stroke-opacity="0.13" stroke-dasharray="4 4" stroke-dashoffset="5" class="c"/>
<line x1="1106.5" x2="1106.5" y1="725" y2="899" stroke="#c8c8c8" stroke-opacity="0.13" stroke-dasharray="4 4" stroke-dashoffset="5" class="c"/>
<line x1="1135.5" x2="1135.5" y1="725" y2="899" stroke="#c8c8c8" stroke-opacity="0.42" stroke-dasharray="4 4" stroke-dashoffset="5" class="c"/>
<rect x="104" y="863" width="21" height="3" fill="#ff4f4f" fill-opacity="0.93"/>
<rect x="134" y="861" width="20" height="5" fill="#4fff4f" fill-opacity="0.93"/>
<rect x="163" y="861" width="20" height="5" fill="#4fff4f" fill-opacity="0.93"/>
<rect x="192" y="861" width="20" height="5" fill="#4fff4f" fill-opacity="0.93"/>
<rect x="221" y="863" width="20" height="3" fill="#ff4f4f" fill-opacity="0.93"/>
<rect x="250" y="862" width="21" height="4" fill="#ff4f4f" fill-opacity="0.93"/>
<rect x="280" y="864" width="20" height="2" fill="#4fff4f" fill-opacity="0.93"/>
<rect x="309" y="863" width="20" height="3" fill="#4fff4f" fill-opacity="0.93"/>
<rect x="338" y="861" width="20" height="5" fill="#ff4f4f" fill-opacity="0.93"/>
<rect x="367" y="856" width="20" height="10" fill="#ff4f4f" fill-opacity="0.93"/>
<rect x="396" y="858" width="21" height="8" fill="#ff4f4f" fill-opacity="0.93"/>
<rect x="425" y="855" width="21" height="11" fill="#ff4f4f" fill-opacity="0.93"/>
<rect x="455" y="855" width="20" height="11" fill="#4fff4f" fill-opacity="0.93"/>
<rect x="484" y="858" width="20" height="8" fill="#ff4f4f" fill-opacity="0.93"/>
<rect x="513" y="860" width="20" height="6" fill="#4fff4f" fill-opacity="0.93"/>
<rect x="542" y="857" width="20" height="9" fill="#ff4f4f" fill-opacity="0.93"/>
<rect x="571" y="860" width="21" height="6" fill="#ff4f4f" fill-opacity="0.93"/>
<rect x="600" y="858" width="21" height="8" fill="#4fff4f" fill-opacity="0.93"/>
<rect x="630" y="859" width="20" height="7" fill="#ff4f4f" fill-opacity="0.93"/>
<rect x="659" y="860" width="20" height="6" fill="#4fff4f" fill-opacity="0.93"/>
<rect x="688" y="732" width="20" height="134" fill="#ff4f4f" fill-opacity="0.93"/>
<rect x="717" y="857" width="20" height="9" fill="#4fff4f" fill-opacity="0.93"/>
<rect x="746" y="850" width="21" height="16" fill="#4fff4f" fill-opacity="0.93"/>
<rect x="775" y="859" width="21" height="7" fill="#4fff4f" fill-opacity="0.93"/>
<rect x="805" y="852" width="20" height="14" fill="#4fff4f" fill-opacity="0.93"/>
<rect x="834" y="834" width="20" height="32" fill="#4fff4f" fill-opacity="0.93"/>
<rect x="863" y="852" width="20" height="14" fill="#ff4f4f" fill-opacity="0.93"/>
<rect x="892" y="860" width="20" height="6" fill="#4fff4f" fill-opacity="0.93"/>
<rect x="921" y="856" width="21" height="10" fill="#4fff4f" fill-opacity="0.93"/>
<rect x="950" y="838" width="21" height="28" fill="#4fff4f" fill-opacity="0.93"/>
<rect x="980" y="848" width="20" height="18" fill="#4fff4f" fill-opacity="0.93"/>
<rect x="1009" y="842" width="20" height="24" fill="#4fff4f" fill-opacity="0.93"/>
<rect x="1038" y="851" width="20" height="15" fill="#4fff4f" fill-opacity="0.93"/>
<rect x="1067" y="840" width="20" height="26" fill="#ff4f4f" fill-opacity="0.93"/>
<rect x="1096" y="859" width="21" height="7" fill="#ff4f4f" fill-opacity="0.93"/>
<rect x="1125" y="856" width="21" height="10" fill="#ff4f4f" fill-opacity="0.93"/>
<line x1="100.5" x2="100.5" y1="718" y2="901" stroke="#000" class="c"/>
<path d="M100.5 712.5 L104.3 720 L96.7 720 Z" fill="#000"/>
<line x1="98" x2="1156" y1="900.5" y2="900.5" stroke="#000" class="c"/>
<path d="M1163.5 900.5 L1155 896.7 L1155 904.3 Z" fill="#000"/>
<line x1="98" x2="103" y1="725.5" y2="725.5" stroke="#000" class="c"/>
<text x="95" y="729.2" text-anchor="end" font-size="10.67">400,000.00</text>
<line x1="98" x2="100" y1="742.5" y2="742.5" stroke="#f00" class="c"/>
<line x1="98" x2="103" y1="760.5" y2="760.5" stroke="#000" class="c"/>
<text x="95" y="764.2" text-anchor="end" font-size="10.67">300,000.00</text>
<line x1="98" x2="100" y1="777.5" y2="777.5" stroke="#f00" class="c"/>
<line x1="98" x2="103" y1="795.5" y2="795.5" stroke="#000" class="c"/>
<text x="95" y="799.2" text-anchor="end" font-size="10.67">200,000.00</text>
<line x1="98" x2="100" y1="812.5" y2="812.5" stroke="#f00" class="c"/>
<line x1="98" x2="103" y1="830.5" y2="830.5" stroke="#000" class="c"/>
<text x="95" y="834.2" text-anchor="end" font-size="10.67">100,000.00</text>
<line x1="98" x2="100" y1="847.5" y2="847.5" stroke="#f00" class="c"/>
<line x1="98" x2="103" y1="865.5" y2="865.5" stroke="#000" class="c"/>
<text x="95" y="869.2" text-anchor="end" font-size="10.67">0.00</text>
<line x1="98" x2="100" y1="882.5" y2="882.5" stroke="#f00" class="c"/>
<line x1="98" x2="103" y1="900.5" y2="900.5" stroke="#000" class="c"/>
<text x="95" y="904.2" text-anchor="end" font-size="10.67">-100,000.00</text>
<line x1="114.5" x2="114.5" y1="898" y2="903" stroke="#000" class="c"/>
<text x="114.0" y="913.7" text-anchor="middle" font-size="10.67">19 Août</text>
<line x1="143.5" x2="143.5" y1="901" y2="903" stroke="#d4d4d4" class="c"/>
<line x1="172.5" x2="172.5" y1="901" y2="903" stroke="#d4d4d4" class="c"/>
<line x1="202.5" x2="202.5" y1="901" y2="903" stroke="#d4d4d4" class="c"/>
<line x1="231.5" x2="231.5" y1="901" y2="903" stroke="#d4d4d4" class="c"/>
<line x1="260.5" x2="260.5" y1="898" y2="903" stroke="#000" class="c"/>
<text x="260.0" y="913.7" text-anchor="middle" font-size="10.67">26 Août</text>
<line x1="289.5" x2="289.5" y1="901" y2="903" stroke="#d4d4d4" class="c"/>
<line x1="318.5" x2="318.5" y1="901" y2="903" stroke="#d4d4d4" class="c"/>
<line x1="347.5" x2="347.5" y1="901" y2="903" stroke="#d4d4d4" class="c"/>
<line x1="377.5" x2="377.5" y1="901" y2="903" stroke="#d4d4d4" class="c"/>
<line x1="406.5" x2="406.5" y1="898" y2="903" stroke="#000" class="c"/>
<text x="406.0" y="912.8" text-anchor="middle" font-size="10.67">2 Sept</text>
<line x1="435.5" x2="435.5" y1="901" y2="903" stroke="#d4d4d4" class="c"/>
<line x1="464.5" x2="464.5" y1="901" y2="903" stroke="#d4d4d4" class="c"/>
<line x1="493.5" x2="493.5" y1="901" y2="903" stroke="#d4d4d4" class="c"/>
<line x1="522.5" x2="522.5" y1="901" y2="903" stroke="#d4d4d4" class="c"/>
<line x1="552.5" x2="552.5" y1="898" y2="903" stroke="#000" class="c"/>
<text x="552.0" y="912.8" text-anchor="middle" font-size="10.67">9 Sept</text>
<line x1="581.5" x2="581.5" y1="901" y2="903" stroke="#d4d4d4" class="c"/>
<line x1="610.5" x2="610.5" y1="901" y2="903" stroke="#d4d4d4" class="c"/>
<line x1="639.5" x2="639.5" y1="901" y2="903" stroke="#d4d4d4" class="c"/>
<line x1="668.5" x2="668.5" y1="901" y2="903" stroke="#d4d4d4" class="c"/>
<line x1="697.5" x2="697.5" y1="898" y2="903" stroke="#000" class="c"/>
<text x="697.0" y="912.8" text-anchor="middle" font-size="10.67">16 Sept</text>
<line x1="727.5" x2="727.5" y1="901" y2="903" stroke="#d4d4d4" class="c"/>
<line x1="756.5" x2="756.5" y1="901" y2="903" stroke="#d4d4d4" class="c"/>
<line x1="785.5" x2="785.5" y1="901" y2="903" stroke="#d4d4d4" class="c"/>
<line x1="814.5" x2="814.5" y1="901" y2="903" stroke="#d4d4d4" class="c"/>
<line x1="843.5" x2="843.5" y1="898" y2="903" stroke="#000" class="c"/>
<text x="843.0" y="912.8" text-anchor="middle" font-size="10.67">22 Sept</text>
<line x1="872.5" x2="872.5" y1="901" y2="903" stroke="#d4d4d4" class="c"/>
<line x1="902.5" x2="902.5" y1="901" y2="903" stroke="#d4d4d4" class="c"/>
<line x1="931.5" x2="931.5" y1="901" y2="903" stroke="#d4d4d4" class="c"/>
<line x1="960.5" x2="960.5" y1="901" y2="903" stroke="#d4d4d4" class="c"/>
<line x1="989.5" x2="989.5" y1="898" y2="903" stroke="#000" class="c"/>
<text x="989.0" y="912.8" text-anchor="middle" font-size="10.67">29 Sept</text>
<line x1="1018.5" x2="1018.5" y1="901" y2="903" stroke="#d4d4d4" class="c"/>
<line x1="1047.5" x2="1047.5" y1="901" y2="903" stroke="#d4d4d4" class="c"/>
<line x1="1077.5" x2="1077.5" y1="901" y2="903" stroke="#d4d4d4" class="c"/>
<line x1="1106.5" x2="1106.5" y1="901" y2="903" stroke="#d4d4d4" class="c"/>
<line x1="1135.5" x2="1135.5" y1="898" y2="903" stroke="#000" class="c"/>
<text x="1135.0" y="912.8" text-anchor="middle" font-size="10.67">6 Oct</text>
<text x="624" y="927.5" text-anchor="middle" font-size="10.67" textLength="231" lengthAdjust="spacingAndGlyphs">Date (du 19 Août 2016 au 6 Octobre 2017)</text>
<text transform="translate(26 812) rotate(-90)" text-anchor="middle" font-size="10.67">Volume</text>
<text x="109.3" y="993.8" font-size="24" textLength="628.3" lengthAdjust="spacingAndGlyphs">Lisi: graphique du RSI - RSI(14) - AnalyBourse.com</text>
<rect x="101" y="1060" width="1050" height="35" fill="#fafafa"/>
<rect x="101" y="1130" width="1050" height="35" fill="#fafafa"/>
<line x1="107" x2="1151" y1="1025.5" y2="1025.5" stroke="#c8c8c8" stroke-opacity="0.42" stroke-dasharray="4 4" class="c"/>
<line x1="107" x2="1151" y1="1060.5" y2="1060.5" stroke="#c8c8c8" stroke-opacity="0.42" stroke-dasharray="4 4" class="c"/>
<line x1="107" x2="1151" y1="1095.5" y2="1095.5" stroke="#c8c8c8" stroke-opacity="0.42" stroke-dasharray="4 4" class="c"/>
<line x1="107" x2="1151" y1="1130.5" y2="1130.5" stroke="#c8c8c8" stroke-opacity="0.42" stroke-dasharray="4 4" class="c"/>
<line x1="107" x2="1151" y1="1165.5" y2="1165.5" stroke="#c8c8c8" stroke-opacity="0.42" stroke-dasharray="4 4" class="c"/>
<line x1="114.5" x2="114.5" y1="1025" y2="1199" stroke="#c8c8c8" stroke-opacity="0.42" stroke-dasharray="4 4" stroke-dashoffset="1" class="c"/>
<line x1="143.5" x2="143.5" y1="1025" y2="1199" stroke="#c8c8c8" stroke-opacity="0.13" stroke-dasharray="4 4" stroke-dashoffset="1" class="c"/>
<line x1="172.5" x2="172.5" y1="1025" y2="1199" stroke="#c8c8c8" stroke-opacity="0.13" stroke-dasharray="4 4" stroke-dashoffset="1" class="c"/>
<line x1="202.5" x2="202.5" y1="1025" y2="1199" stroke="#c8c8c8" stroke-opacity="0.13" stroke-dasharray="4 4" stroke-dashoffset="1" class="c"/>
<line x1="231.5" x2="231.5" y1="1025" y2="1199" stroke="#c8c8c8" stroke-opacity="0.13" stroke-dasharray="4 4" stroke-dashoffset="1" class="c"/>
<line x1="260.5" x2="260.5" y1="1025" y2="1199" stroke="#c8c8c8" stroke-opacity="0.42" stroke-dasharray="4 4" stroke-dashoffset="1" class="c"/>
<line x1="289.5" x2="289.5" y1="1025" y2="1199" stroke="#c8c8c8" stroke-opacity="0.13" stroke-dasharray="4 4" stroke-dashoffset="1" class="c"/>
<line x1="318.5" x2="318.5" y1="1025" y2="1199" stroke="#c8c8c8" stroke-opacity="0.13" stroke-dasharray="4 4" stroke-dashoffset="1" class="c"/>
<line x1="347.5" x2="347.5" y1="1025" y2="1199" stroke="#c8c8c8" stroke-opacity="0.13" stroke-dasharray="4 4" stroke-dashoffset="1" class="c"/>
<line x1="377.5" x2="377.5" y1="1025" y2="1199" stroke="#c8c8c8" stroke-opacity="0.13" stroke-dasharray="4 4" stroke-dashoffset="1" class="c"/>
<line x1="406.5" x2="406.5" y1="1025" y2="1199" stroke="#c8c8c8" stroke-opacity="0.42" stroke-dasharray="4 4" stroke-dashoffset="1" class="c"/>
<line x1="435.5" x2="435.5" y1="1025" y2="1199" stroke="#c8c8c8" stroke-opacity="0.13" stroke-dasharray="4 4" stroke-dashoffset="1" class="c"/>
<line x1="464.5" x2="464.5" y1="1025" y2="1199" stroke="#c8c8c8" stroke-opacity="0.13" stroke-dasharray="4 4" stroke-dashoffset="1" class="c"/>
<line x1="493.5" x2="493.5" y1="1025" y2="1199" stroke="#c8c8c8" stroke-opacity="0.13" stroke-dasharray="4 4" stroke-dashoffset="1" class="c"/>
<line x1="522.5" x2="522.5" y1="1025" y2="1199" stroke="#c8c8c8" stroke-opacity="0.13" stroke-dasharray="4 4" stroke-dashoffset="1" class="c"/>
<line x1="552.5" x2="552.5" y1="1025" y2="1199" stroke="#c8c8c8" stroke-opacity="0.42" stroke-dasharray="4 4" stroke-dashoffset="1" class="c"/>
<line x1="581.5" x2="581.5" y1="1025" y2="1199" stroke="#c8c8c8" stroke-opacity="0.13" stroke-dasharray="4 4" stroke-dashoffset="1" class="c"/>
<line x1="610.5" x2="610.5" y1="1025" y2="1199" stroke="#c8c8c8" stroke-opacity="0.13" stroke-dasharray="4 4" stroke-dashoffset="1" class="c"/>
<line x1="639.5" x2="639.5" y1="1025" y2="1199" stroke="#c8c8c8" stroke-opacity="0.13" stroke-dasharray="4 4" stroke-dashoffset="1" class="c"/>
<line x1="668.5" x2="668.5" y1="1025" y2="1199" stroke="#c8c8c8" stroke-opacity="0.13" stroke-dasharray="4 4" stroke-dashoffset="1" class="c"/>
<line x1="697.5" x2="697.5" y1="1025" y2="1199" stroke="#c8c8c8" stroke-opacity="0.42" stroke-dasharray="4 4" stroke-dashoffset="1" class="c"/>
<line x1="727.5" x2="727.5" y1="1025" y2="1199" stroke="#c8c8c8" stroke-opacity="0.13" stroke-dasharray="4 4" stroke-dashoffset="1" class="c"/>
<line x1="756.5" x2="756.5" y1="1025" y2="1199" stroke="#c8c8c8" stroke-opacity="0.13" stroke-dasharray="4 4" stroke-dashoffset="1" class="c"/>
<line x1="785.5" x2="785.5" y1="1025" y2="1199" stroke="#c8c8c8" stroke-opacity="0.13" stroke-dasharray="4 4" stroke-dashoffset="1" class="c"/>
<line x1="814.5" x2="814.5" y1="1025" y2="1199" stroke="#c8c8c8" stroke-opacity="0.13" stroke-dasharray="4 4" stroke-dashoffset="1" class="c"/>
<line x1="843.5" x2="843.5" y1="1025" y2="1199" stroke="#c8c8c8" stroke-opacity="0.42" stroke-dasharray="4 4" stroke-dashoffset="1" class="c"/>
<line x1="872.5" x2="872.5" y1="1025" y2="1199" stroke="#c8c8c8" stroke-opacity="0.13" stroke-dasharray="4 4" stroke-dashoffset="1" class="c"/>
<line x1="902.5" x2="902.5" y1="1025" y2="1199" stroke="#c8c8c8" stroke-opacity="0.13" stroke-dasharray="4 4" stroke-dashoffset="1" class="c"/>
<line x1="931.5" x2="931.5" y1="1025" y2="1199" stroke="#c8c8c8" stroke-opacity="0.13" stroke-dasharray="4 4" stroke-dashoffset="1" class="c"/>
<line x1="960.5" x2="960.5" y1="1025" y2="1199" stroke="#c8c8c8" stroke-opacity="0.13" stroke-dasharray="4 4" stroke-dashoffset="1" class="c"/>
<line x1="989.5" x2="989.5" y1="1025" y2="1199" stroke="#c8c8c8" stroke-opacity="0.42" stroke-dasharray="4 4" stroke-dashoffset="1" class="c"/>
<line x1="1018.5" x2="1018.5" y1="1025" y2="1199" stroke="#c8c8c8" stroke-opacity="0.13" stroke-dasharray="4 4" stroke-dashoffset="1" class="c"/>
<line x1="1047.5" x2="1047.5" y1="1025" y2="1199" stroke="#c8c8c8" stroke-opacity="0.13" stroke-dasharray="4 4" stroke-dashoffset="1" class="c"/>
<line x1="1077.5" x2="1077.5" y1="1025" y2="1199" stroke="#c8c8c8" stroke-opacity="0.13" stroke-dasharray="4 4" stroke-dashoffset="1" class="c"/>
<line x1="1106.5" x2="1106.5" y1="1025" y2="1199" stroke="#c8c8c8" stroke-opacity="0.13" stroke-dasharray="4 4" stroke-dashoffset="1" class="c"/>
<line x1="1135.5" x2="1135.5" y1="1025" y2="1199" stroke="#c8c8c8" stroke-opacity="0.42" stroke-dasharray="4 4" stroke-dashoffset="1" class="c"/>
<line x1="114" x2="1135" y1="1112.5" y2="1112.5" stroke="#666" class="c"/>
<polyline points="114.5,1094.0 143.7,1091.0 172.8,1087.7 202.0,1085.3 216.0,1085.2 231.2,1086.2 240.0,1087.5 260.3,1096.2 270.0,1097.3 289.5,1096.5 305.0,1095.8 318.7,1096.2 335.0,1098.5 347.8,1104.0 356.0,1110.0 365.0,1122.0 375.0,1134.0 381.0,1137.0 390.0,1139.0 406.2,1140.3 420.0,1141.0 435.3,1139.3 450.0,1132.0 464.5,1124.5 478.0,1121.0 493.7,1118.0 522.8,1116.3 552.0,1114.3 566.0,1114.5 581.2,1116.3 590.0,1115.8 604.0,1112.0 610.3,1111.0 622.0,1111.2 630.0,1113.0 639.5,1113.0 668.7,1113.0 680.0,1116.3 692.0,1119.5 697.8,1116.7 700.0,1114.0 706.7,1095.0 716.7,1061.7 723.3,1043.3 727.5,1037.5 733.0,1035.3 742.0,1035.3 748.0,1037.2 756.0,1037.3 785.0,1037.2 790.0,1036.5 814.5,1036.5 830.0,1035.3 846.0,1035.5 862.0,1038.7 880.0,1040.3 888.0,1039.5 933.0,1039.3 955.0,1037.6 990.0,1037.3 1013.0,1035.2 1058.0,1035.2 1075.0,1036.5 1083.0,1038.7 1093.0,1042.7 1107.0,1046.7 1120.0,1050.0 1135.5,1053.3" fill="none" stroke="#ff3232" stroke-width="1.1"/>
<line x1="100.5" x2="100.5" y1="1018" y2="1201" stroke="#000" class="c"/>
<path d="M100.5 1012.5 L104.3 1020 L96.7 1020 Z" fill="#000"/>
<line x1="98" x2="1156" y1="1200.5" y2="1200.5" stroke="#000" class="c"/>
<path d="M1163.5 1200.5 L1155 1196.7 L1155 1204.3 Z" fill="#000"/>
<line x1="98" x2="103" y1="1025.5" y2="1025.5" stroke="#000" class="c"/>
<text x="95" y="1029.2" text-anchor="end" font-size="10.67">100.00</text>
<line x1="98" x2="100" y1="1042.5" y2="1042.5" stroke="#f00" class="c"/>
<line x1="98" x2="103" y1="1060.5" y2="1060.5" stroke="#000" class="c"/>
<text x="95" y="1064.2" text-anchor="end" font-size="10.67">80.00</text>
<line x1="98" x2="100" y1="1077.5" y2="1077.5" stroke="#f00" class="c"/>
<line x1="98" x2="103" y1="1095.5" y2="1095.5" stroke="#000" class="c"/>
<text x="95" y="1099.2" text-anchor="end" font-size="10.67">60.00</text>
<line x1="98" x2="100" y1="1112.5" y2="1112.5" stroke="#f00" class="c"/>
<line x1="98" x2="103" y1="1130.5" y2="1130.5" stroke="#000" class="c"/>
<text x="95" y="1134.2" text-anchor="end" font-size="10.67">40.00</text>
<line x1="98" x2="100" y1="1147.5" y2="1147.5" stroke="#f00" class="c"/>
<line x1="98" x2="103" y1="1165.5" y2="1165.5" stroke="#000" class="c"/>
<text x="95" y="1169.2" text-anchor="end" font-size="10.67">20.00</text>
<line x1="98" x2="100" y1="1182.5" y2="1182.5" stroke="#f00" class="c"/>
<line x1="98" x2="103" y1="1200.5" y2="1200.5" stroke="#000" class="c"/>
<text x="95" y="1204.2" text-anchor="end" font-size="10.67">0.00</text>
<line x1="114.5" x2="114.5" y1="1198" y2="1203" stroke="#000" class="c"/>
<text x="114.0" y="1213.7" text-anchor="middle" font-size="10.67">19 Août</text>
<line x1="143.5" x2="143.5" y1="1201" y2="1203" stroke="#d4d4d4" class="c"/>
<line x1="172.5" x2="172.5" y1="1201" y2="1203" stroke="#d4d4d4" class="c"/>
<line x1="202.5" x2="202.5" y1="1201" y2="1203" stroke="#d4d4d4" class="c"/>
<line x1="231.5" x2="231.5" y1="1201" y2="1203" stroke="#d4d4d4" class="c"/>
<line x1="260.5" x2="260.5" y1="1198" y2="1203" stroke="#000" class="c"/>
<text x="260.0" y="1213.7" text-anchor="middle" font-size="10.67">26 Août</text>
<line x1="289.5" x2="289.5" y1="1201" y2="1203" stroke="#d4d4d4" class="c"/>
<line x1="318.5" x2="318.5" y1="1201" y2="1203" stroke="#d4d4d4" class="c"/>
<line x1="347.5" x2="347.5" y1="1201" y2="1203" stroke="#d4d4d4" class="c"/>
<line x1="377.5" x2="377.5" y1="1201" y2="1203" stroke="#d4d4d4" class="c"/>
<line x1="406.5" x2="406.5" y1="1198" y2="1203" stroke="#000" class="c"/>
<text x="406.0" y="1212.8" text-anchor="middle" font-size="10.67">2 Sept</text>
<line x1="435.5" x2="435.5" y1="1201" y2="1203" stroke="#d4d4d4" class="c"/>
<line x1="464.5" x2="464.5" y1="1201" y2="1203" stroke="#d4d4d4" class="c"/>
<line x1="493.5" x2="493.5" y1="1201" y2="1203" stroke="#d4d4d4" class="c"/>
<line x1="522.5" x2="522.5" y1="1201" y2="1203" stroke="#d4d4d4" class="c"/>
<line x1="552.5" x2="552.5" y1="1198" y2="1203" stroke="#000" class="c"/>
<text x="552.0" y="1212.8" text-anchor="middle" font-size="10.67">9 Sept</text>
<line x1="581.5" x2="581.5" y1="1201" y2="1203" stroke="#d4d4d4" class="c"/>
<line x1="610.5" x2="610.5" y1="1201" y2="1203" stroke="#d4d4d4" class="c"/>
<line x1="639.5" x2="639.5" y1="1201" y2="1203" stroke="#d4d4d4" class="c"/>
<line x1="668.5" x2="668.5" y1="1201" y2="1203" stroke="#d4d4d4" class="c"/>
<line x1="697.5" x2="697.5" y1="1198" y2="1203" stroke="#000" class="c"/>
<text x="697.0" y="1212.8" text-anchor="middle" font-size="10.67">16 Sept</text>
<line x1="727.5" x2="727.5" y1="1201" y2="1203" stroke="#d4d4d4" class="c"/>
<line x1="756.5" x2="756.5" y1="1201" y2="1203" stroke="#d4d4d4" class="c"/>
<line x1="785.5" x2="785.5" y1="1201" y2="1203" stroke="#d4d4d4" class="c"/>
<line x1="814.5" x2="814.5" y1="1201" y2="1203" stroke="#d4d4d4" class="c"/>
<line x1="843.5" x2="843.5" y1="1198" y2="1203" stroke="#000" class="c"/>
<text x="843.0" y="1212.8" text-anchor="middle" font-size="10.67">22 Sept</text>
<line x1="872.5" x2="872.5" y1="1201" y2="1203" stroke="#d4d4d4" class="c"/>
<line x1="902.5" x2="902.5" y1="1201" y2="1203" stroke="#d4d4d4" class="c"/>
<line x1="931.5" x2="931.5" y1="1201" y2="1203" stroke="#d4d4d4" class="c"/>
<line x1="960.5" x2="960.5" y1="1201" y2="1203" stroke="#d4d4d4" class="c"/>
<line x1="989.5" x2="989.5" y1="1198" y2="1203" stroke="#000" class="c"/>
<text x="989.0" y="1212.8" text-anchor="middle" font-size="10.67">29 Sept</text>
<line x1="1018.5" x2="1018.5" y1="1201" y2="1203" stroke="#d4d4d4" class="c"/>
<line x1="1047.5" x2="1047.5" y1="1201" y2="1203" stroke="#d4d4d4" class="c"/>
<line x1="1077.5" x2="1077.5" y1="1201" y2="1203" stroke="#d4d4d4" class="c"/>
<line x1="1106.5" x2="1106.5" y1="1201" y2="1203" stroke="#d4d4d4" class="c"/>
<line x1="1135.5" x2="1135.5" y1="1198" y2="1203" stroke="#000" class="c"/>
<text x="1135.0" y="1212.8" text-anchor="middle" font-size="10.67">6 Oct</text>
<text x="624" y="1227.5" text-anchor="middle" font-size="10.67" textLength="231" lengthAdjust="spacingAndGlyphs">Date (du 19 Août 2016 au 6 Octobre 2017)</text>
<text transform="translate(55 1112) rotate(-90)" text-anchor="middle" font-size="10.67">RSI</text>
<text x="109.3" y="1293.8" font-size="24" textLength="749.1" lengthAdjust="spacingAndGlyphs">Lisi: graphique du MACD - MACD(12,26,9) - AnalyBourse.com</text>
<rect x="101" y="1325" width="1050" height="29" fill="#fafafa"/>
<rect x="101" y="1383" width="1050" height="29" fill="#fafafa"/>
<rect x="101" y="1442" width="1050" height="29" fill="#fafafa"/>
<line x1="107" x2="1151" y1="1325.5" y2="1325.5" stroke="#c8c8c8" stroke-opacity="0.42" stroke-dasharray="4 4" class="c"/>
<line x1="107" x2="1151" y1="1354.5" y2="1354.5" stroke="#c8c8c8" stroke-opacity="0.42" stroke-dasharray="4 4" class="c"/>
<line x1="107" x2="1151" y1="1383.5" y2="1383.5" stroke="#c8c8c8" stroke-opacity="0.42" stroke-dasharray="4 4" class="c"/>
<line x1="107" x2="1151" y1="1412.5" y2="1412.5" stroke="#c8c8c8" stroke-opacity="0.42" stroke-dasharray="4 4" class="c"/>
<line x1="107" x2="1151" y1="1441.5" y2="1441.5" stroke="#c8c8c8" stroke-opacity="0.42" stroke-dasharray="4 4" class="c"/>
<line x1="107" x2="1151" y1="1470.5" y2="1470.5" stroke="#c8c8c8" stroke-opacity="0.42" stroke-dasharray="4 4" class="c"/>
<line x1="114.5" x2="114.5" y1="1325" y2="1499" stroke="#c8c8c8" stroke-opacity="0.42" stroke-dasharray="4 4" stroke-dashoffset="5" class="c"/>
<line x1="143.5" x2="143.5" y1="1325" y2="1499" stroke="#c8c8c8" stroke-opacity="0.13" stroke-dasharray="4 4" stroke-dashoffset="5" class="c"/>
<line x1="172.5" x2="172.5" y1="1325" y2="1499" stroke="#c8c8c8" stroke-opacity="0.13" stroke-dasharray="4 4" stroke-dashoffset="5" class="c"/>
<line x1="202.5" x2="202.5" y1="1325" y2="1499" stroke="#c8c8c8" stroke-opacity="0.13" stroke-dasharray="4 4" stroke-dashoffset="5" class="c"/>
<line x1="231.5" x2="231.5" y1="1325" y2="1499" stroke="#c8c8c8" stroke-opacity="0.13" stroke-dasharray="4 4" stroke-dashoffset="5" class="c"/>
<line x1="260.5" x2="260.5" y1="1325" y2="1499" stroke="#c8c8c8" stroke-opacity="0.42" stroke-dasharray="4 4" stroke-dashoffset="5" class="c"/>
<line x1="289.5" x2="289.5" y1="1325" y2="1499" stroke="#c8c8c8" stroke-opacity="0.13" stroke-dasharray="4 4" stroke-dashoffset="5" class="c"/>
<line x1="318.5" x2="318.5" y1="1325" y2="1499" stroke="#c8c8c8" stroke-opacity="0.13" stroke-dasharray="4 4" stroke-dashoffset="5" class="c"/>
<line x1="347.5" x2="347.5" y1="1325" y2="1499" stroke="#c8c8c8" stroke-opacity="0.13" stroke-dasharray="4 4" stroke-dashoffset="5" class="c"/>
<line x1="377.5" x2="377.5" y1="1325" y2="1499" stroke="#c8c8c8" stroke-opacity="0.13" stroke-dasharray="4 4" stroke-dashoffset="5" class="c"/>
<line x1="406.5" x2="406.5" y1="1325" y2="1499" stroke="#c8c8c8" stroke-opacity="0.42" stroke-dasharray="4 4" stroke-dashoffset="5" class="c"/>
<line x1="435.5" x2="435.5" y1="1325" y2="1499" stroke="#c8c8c8" stroke-opacity="0.13" stroke-dasharray="4 4" stroke-dashoffset="5" class="c"/>
<line x1="464.5" x2="464.5" y1="1325" y2="1499" stroke="#c8c8c8" stroke-opacity="0.13" stroke-dasharray="4 4" stroke-dashoffset="5" class="c"/>
<line x1="493.5" x2="493.5" y1="1325" y2="1499" stroke="#c8c8c8" stroke-opacity="0.13" stroke-dasharray="4 4" stroke-dashoffset="5" class="c"/>
<line x1="522.5" x2="522.5" y1="1325" y2="1499" stroke="#c8c8c8" stroke-opacity="0.13" stroke-dasharray="4 4" stroke-dashoffset="5" class="c"/>
<line x1="552.5" x2="552.5" y1="1325" y2="1499" stroke="#c8c8c8" stroke-opacity="0.42" stroke-dasharray="4 4" stroke-dashoffset="5" class="c"/>
<line x1="581.5" x2="581.5" y1="1325" y2="1499" stroke="#c8c8c8" stroke-opacity="0.13" stroke-dasharray="4 4" stroke-dashoffset="5" class="c"/>
<line x1="610.5" x2="610.5" y1="1325" y2="1499" stroke="#c8c8c8" stroke-opacity="0.13" stroke-dasharray="4 4" stroke-dashoffset="5" class="c"/>
<line x1="639.5" x2="639.5" y1="1325" y2="1499" stroke="#c8c8c8" stroke-opacity="0.13" stroke-dasharray="4 4" stroke-dashoffset="5" class="c"/>
<line x1="668.5" x2="668.5" y1="1325" y2="1499" stroke="#c8c8c8" stroke-opacity="0.13" stroke-dasharray="4 4" stroke-dashoffset="5" class="c"/>
<line x1="697.5" x2="697.5" y1="1325" y2="1499" stroke="#c8c8c8" stroke-opacity="0.42" stroke-dasharray="4 4" stroke-dashoffset="5" class="c"/>
<line x1="727.5" x2="727.5" y1="1325" y2="1499" stroke="#c8c8c8" stroke-opacity="0.13" stroke-dasharray="4 4" stroke-dashoffset="5" class="c"/>
<line x1="756.5" x2="756.5" y1="1325" y2="1499" stroke="#c8c8c8" stroke-opacity="0.13" stroke-dasharray="4 4" stroke-dashoffset="5" class="c"/>
<line x1="785.5" x2="785.5" y1="1325" y2="1499" stroke="#c8c8c8" stroke-opacity="0.13" stroke-dasharray="4 4" stroke-dashoffset="5" class="c"/>
<line x1="814.5" x2="814.5" y1="1325" y2="1499" stroke="#c8c8c8" stroke-opacity="0.13" stroke-dasharray="4 4" stroke-dashoffset="5" class="c"/>
<line x1="843.5" x2="843.5" y1="1325" y2="1499" stroke="#c8c8c8" stroke-opacity="0.42" stroke-dasharray="4 4" stroke-dashoffset="5" class="c"/>
<line x1="872.5" x2="872.5" y1="1325" y2="1499" stroke="#c8c8c8" stroke-opacity="0.13" stroke-dasharray="4 4" stroke-dashoffset="5" class="c"/>
<line x1="902.5" x2="902.5" y1="1325" y2="1499" stroke="#c8c8c8" stroke-opacity="0.13" stroke-dasharray="4 4" stroke-dashoffset="5" class="c"/>
<line x1="931.5" x2="931.5" y1="1325" y2="1499" stroke="#c8c8c8" stroke-opacity="0.13" stroke-dasharray="4 4" stroke-dashoffset="5" class="c"/>
<line x1="960.5" x2="960.5" y1="1325" y2="1499" stroke="#c8c8c8" stroke-opacity="0.13" stroke-dasharray="4 4" stroke-dashoffset="5" class="c"/>
<line x1="989.5" x2="989.5" y1="1325" y2="1499" stroke="#c8c8c8" stroke-opacity="0.42" stroke-dasharray="4 4" stroke-dashoffset="5" class="c"/>
<line x1="1018.5" x2="1018.5" y1="1325" y2="1499" stroke="#c8c8c8" stroke-opacity="0.13" stroke-dasharray="4 4" stroke-dashoffset="5" class="c"/>
<line x1="1047.5" x2="1047.5" y1="1325" y2="1499" stroke="#c8c8c8" stroke-opacity="0.13" stroke-dasharray="4 4" stroke-dashoffset="5" class="c"/>
<line x1="1077.5" x2="1077.5" y1="1325" y2="1499" stroke="#c8c8c8" stroke-opacity="0.13" stroke-dasharray="4 4" stroke-dashoffset="5" class="c"/>
<line x1="1106.5" x2="1106.5" y1="1325" y2="1499" stroke="#c8c8c8" stroke-opacity="0.13" stroke-dasharray="4 4" stroke-dashoffset="5" class="c"/>
<line x1="1135.5" x2="1135.5" y1="1325" y2="1499" stroke="#c8c8c8" stroke-opacity="0.42" stroke-dasharray="4 4" stroke-dashoffset="5" class="c"/>
<polygon points="260.3,1470.0 260.3,1471.0 289.5,1471.8 318.7,1472.6 347.8,1475.0 377.0,1481.0 406.2,1484.6 435.3,1486.2 464.5,1484.6 493.7,1482.2 522.8,1479.8 552.0,1478.2 581.0,1476.2 610.0,1474.6 639.5,1473.4 668.7,1473.0 682.0,1473.6 690.0,1475.0 696.0,1474.0 700.5,1470.8 700.5,1470.0" fill="#ff5050" fill-opacity="0.6"/>
<polygon points="700.5,1470.8 706.0,1458.0 713.0,1440.0 720.0,1426.0 727.0,1414.0 741.0,1395.0 756.2,1380.0 770.0,1370.0 785.3,1361.2 800.0,1355.0 814.5,1350.8 830.0,1349.0 843.7,1349.2 858.0,1352.0 872.8,1356.4 902.0,1369.2 931.2,1382.0 960.3,1391.2 989.5,1402.0 1018.7,1407.2 1047.8,1414.8 1077.0,1426.0 1106.2,1440.0 1135.5,1455.2 1135.5,1470.8" fill="#50f550" fill-opacity="0.6"/>
<line x1="163" x2="240" y1="1470.5" y2="1470.5" stroke="#94fa94" class="c"/>
<line x1="100.5" x2="100.5" y1="1318" y2="1501" stroke="#000" class="c"/>
<path d="M100.5 1312.5 L104.3 1320 L96.7 1320 Z" fill="#000"/>
<line x1="98" x2="1156" y1="1500.5" y2="1500.5" stroke="#000" class="c"/>
<path d="M1163.5 1500.5 L1155 1496.7 L1155 1504.3 Z" fill="#000"/>
<line x1="98" x2="103" y1="1325.5" y2="1325.5" stroke="#000" class="c"/>
<text x="95" y="1329.2" text-anchor="end" font-size="10.67">2.50</text>
<line x1="98" x2="100" y1="1339.5" y2="1339.5" stroke="#f00" class="c"/>
<line x1="98" x2="103" y1="1354.5" y2="1354.5" stroke="#000" class="c"/>
<text x="95" y="1358.2" text-anchor="end" font-size="10.67">2.00</text>
<line x1="98" x2="100" y1="1368.5" y2="1368.5" stroke="#f00" class="c"/>
<line x1="98" x2="103" y1="1383.5" y2="1383.5" stroke="#000" class="c"/>
<text x="95" y="1387.2" text-anchor="end" font-size="10.67">1.50</text>
<line x1="98" x2="100" y1="1397.5" y2="1397.5" stroke="#f00" class="c"/>
<line x1="98" x2="103" y1="1412.5" y2="1412.5" stroke="#000" class="c"/>
<text x="95" y="1416.2" text-anchor="end" font-size="10.67">1.00</text>
<line x1="98" x2="100" y1="1427.5" y2="1427.5" stroke="#f00" class="c"/>
<line x1="98" x2="103" y1="1441.5" y2="1441.5" stroke="#000" class="c"/>
<text x="95" y="1445.2" text-anchor="end" font-size="10.67">0.50</text>
<line x1="98" x2="100" y1="1456.5" y2="1456.5" stroke="#f00" class="c"/>
<line x1="98" x2="103" y1="1470.5" y2="1470.5" stroke="#000" class="c"/>
<text x="95" y="1474.2" text-anchor="end" font-size="10.67">0.00</text>
<line x1="98" x2="100" y1="1485.5" y2="1485.5" stroke="#f00" class="c"/>
<line x1="98" x2="103" y1="1500.5" y2="1500.5" stroke="#000" class="c"/>
<text x="95" y="1504.2" text-anchor="end" font-size="10.67">-0.50</text>
<line x1="114.5" x2="114.5" y1="1498" y2="1503" stroke="#000" class="c"/>
<text x="114.0" y="1513.7" text-anchor="middle" font-size="10.67">19 Août</text>
<line x1="143.5" x2="143.5" y1="1501" y2="1503" stroke="#d4d4d4" class="c"/>
<line x1="172.5" x2="172.5" y1="1501" y2="1503" stroke="#d4d4d4" class="c"/>
<line x1="202.5" x2="202.5" y1="1501" y2="1503" stroke="#d4d4d4" class="c"/>
<line x1="231.5" x2="231.5" y1="1501" y2="1503" stroke="#d4d4d4" class="c"/>
<line x1="260.5" x2="260.5" y1="1498" y2="1503" stroke="#000" class="c"/>
<text x="260.0" y="1513.7" text-anchor="middle" font-size="10.67">26 Août</text>
<line x1="289.5" x2="289.5" y1="1501" y2="1503" stroke="#d4d4d4" class="c"/>
<line x1="318.5" x2="318.5" y1="1501" y2="1503" stroke="#d4d4d4" class="c"/>
<line x1="347.5" x2="347.5" y1="1501" y2="1503" stroke="#d4d4d4" class="c"/>
<line x1="377.5" x2="377.5" y1="1501" y2="1503" stroke="#d4d4d4" class="c"/>
<line x1="406.5" x2="406.5" y1="1498" y2="1503" stroke="#000" class="c"/>
<text x="406.0" y="1512.8" text-anchor="middle" font-size="10.67">2 Sept</text>
<line x1="435.5" x2="435.5" y1="1501" y2="1503" stroke="#d4d4d4" class="c"/>
<line x1="464.5" x2="464.5" y1="1501" y2="1503" stroke="#d4d4d4" class="c"/>
<line x1="493.5" x2="493.5" y1="1501" y2="1503" stroke="#d4d4d4" class="c"/>
<line x1="522.5" x2="522.5" y1="1501" y2="1503" stroke="#d4d4d4" class="c"/>
<line x1="552.5" x2="552.5" y1="1498" y2="1503" stroke="#000" class="c"/>
<text x="552.0" y="1512.8" text-anchor="middle" font-size="10.67">9 Sept</text>
<line x1="581.5" x2="581.5" y1="1501" y2="1503" stroke="#d4d4d4" class="c"/>
<line x1="610.5" x2="610.5" y1="1501" y2="1503" stroke="#d4d4d4" class="c"/>
<line x1="639.5" x2="639.5" y1="1501" y2="1503" stroke="#d4d4d4" class="c"/>
<line x1="668.5" x2="668.5" y1="1501" y2="1503" stroke="#d4d4d4" class="c"/>
<line x1="697.5" x2="697.5" y1="1498" y2="1503" stroke="#000" class="c"/>
<text x="697.0" y="1512.8" text-anchor="middle" font-size="10.67">16 Sept</text>
<line x1="727.5" x2="727.5" y1="1501" y2="1503" stroke="#d4d4d4" class="c"/>
<line x1="756.5" x2="756.5" y1="1501" y2="1503" stroke="#d4d4d4" class="c"/>
<line x1="785.5" x2="785.5" y1="1501" y2="1503" stroke="#d4d4d4" class="c"/>
<line x1="814.5" x2="814.5" y1="1501" y2="1503" stroke="#d4d4d4" class="c"/>
<line x1="843.5" x2="843.5" y1="1498" y2="1503" stroke="#000" class="c"/>
<text x="843.0" y="1512.8" text-anchor="middle" font-size="10.67">22 Sept</text>
<line x1="872.5" x2="872.5" y1="1501" y2="1503" stroke="#d4d4d4" class="c"/>
<line x1="902.5" x2="902.5" y1="1501" y2="1503" stroke="#d4d4d4" class="c"/>
<line x1="931.5" x2="931.5" y1="1501" y2="1503" stroke="#d4d4d4" class="c"/>
<line x1="960.5" x2="960.5" y1="1501" y2="1503" stroke="#d4d4d4" class="c"/>
<line x1="989.5" x2="989.5" y1="1498" y2="1503" stroke="#000" class="c"/>
<text x="989.0" y="1512.8" text-anchor="middle" font-size="10.67">29 Sept</text>
<line x1="1018.5" x2="1018.5" y1="1501" y2="1503" stroke="#d4d4d4" class="c"/>
<line x1="1047.5" x2="1047.5" y1="1501" y2="1503" stroke="#d4d4d4" class="c"/>
<line x1="1077.5" x2="1077.5" y1="1501" y2="1503" stroke="#d4d4d4" class="c"/>
<line x1="1106.5" x2="1106.5" y1="1501" y2="1503" stroke="#d4d4d4" class="c"/>
<line x1="1135.5" x2="1135.5" y1="1498" y2="1503" stroke="#000" class="c"/>
<text x="1135.0" y="1512.8" text-anchor="middle" font-size="10.67">6 Oct</text>
<text x="624" y="1527.5" text-anchor="middle" font-size="10.67" textLength="231" lengthAdjust="spacingAndGlyphs">Date (du 19 Août 2016 au 6 Octobre 2017)</text>
<text transform="translate(63 1412.3) rotate(-90)" text-anchor="middle" font-size="10.67">MACD</text>
</svg>
</body></html>
